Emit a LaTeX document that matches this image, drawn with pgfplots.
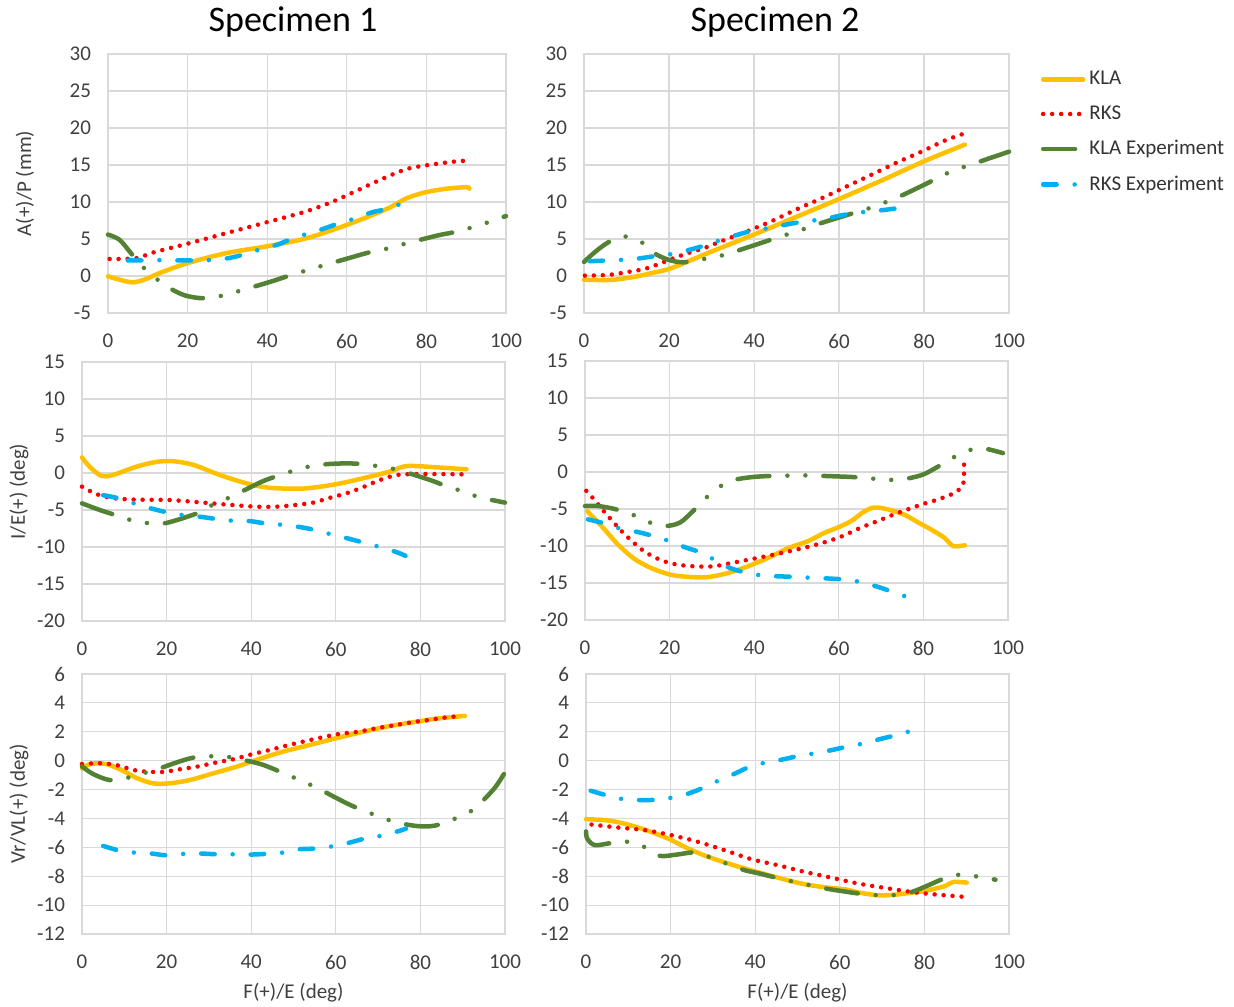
\documentclass[border=0pt]{standalone}
\usepackage{fontspec}
\setmainfont{Carlito}
\usepackage{pgfplots}
\pgfplotsset{compat=1.18}
\definecolor{kla}{HTML}{FFC000}
\definecolor{rks}{HTML}{FF0000}
\definecolor{klaexp}{HTML}{548235}
\definecolor{rksexp}{HTML}{00B0F0}
\definecolor{gridc}{HTML}{D9D9D9}
\definecolor{txt}{HTML}{404040}
\pgfplotsset{
 base/.style={scale only axis, xmin=0, xmax=100, xtick={0,20,40,60,80,100},
   xticklabels={0,20,40,60,80,100}, clip=false,
   grid=major, major grid style={gridc, line width=0.6pt},
   axis line style={gridc, line width=0.6pt}, tick style={draw=none},
   ticklabel style={font=\fontsize{10.5}{12}\selectfont, text=txt},
   label style={font=\fontsize{10.5}{12}\selectfont, text=txt},
   xticklabel style={yshift=-7pt}, yticklabel style={xshift=-5pt},
   every axis plot/.append style={line width=2.25pt, smooth, tension=0.5},
   legend image code/.code={\draw[#1] (0pt,0pt) -- (20pt,0pt);}},
 topaxis/.style={base, width=199pt, height=129.5pt, ymin=-5, ymax=30,
   ytick={-5,0,5,10,15,20,25,30}, yticklabels={-5,0,5,10,15,20,25,30}},
 midaxis/.style={base, width=211.5pt, height=129.5pt, ymin=-20, ymax=15,
   ytick={-20,-15,-10,-5,0,5,10,15}, yticklabels={-20,-15,-10,-5,0,5,10,15}},
 botaxis/.style={base, width=211.5pt, height=130pt, ymin=-12, ymax=6,
   ytick={-12,-10,-8,-6,-4,-2,0,2,4,6}, yticklabels={-12,-10,-8,-6,-4,-2,0,2,4,6}},
 KLA/.style={kla, line cap=round, line join=round},
 RKS/.style={rks, line cap=round, dash pattern=on 0pt off 4.5pt},
 KLAE/.style={klaexp, line cap=round, dash pattern=on 16pt off 9pt on 0pt off 9pt on 0pt off 9pt},
 RKSE/.style={rksexp, line cap=round, dash pattern=on 6.75pt off 9pt on 0pt off 9pt},
}
\begin{document}
\begin{tikzpicture}
\path[use as bounding box] (0,0) rectangle (617pt,503pt);
\node[font=\fontsize{18}{21}\selectfont] at (146.5pt,492pt) {Specimen 1};
\node[font=\fontsize{18}{21}\selectfont] at (387.5pt,492pt) {Specimen 2};
% Plot 1
\begin{axis}[topaxis, at={(54pt,346.5pt)}, anchor=south west, ylabel={A(+)/P (mm)},
  ylabel style={at={(axis description cs:-0.2085,0.5)}, anchor=center, rotate=0}]
\addplot[KLA] coordinates {(0,-0.05)(2.9,-0.5)(6.3,-0.86)(9.6,-0.4)(13,0.4)(20.1,1.76)(29.8,3.1)(39.8,4.0)(49.9,5.1)(60,6.9)(70,9.05)(75,10.5)(79.7,11.3)(85.1,11.8)(90.2,12.0)(90.8,11.8)};
\addplot[RKS] coordinates {(0.4,2.3)(7.1,2.4)(11.5,3.2)(20.6,4.45)(29.8,5.8)(39.8,7.25)(49,8.6)(55.8,9.9)(62,11.4)(68.4,13.0)(74.7,14.4)(79.3,14.9)(86,15.4)(90.2,15.6)};
\addplot[KLAE] coordinates {(0,5.6)(2.9,4.9)(5.9,3.0)(8.8,1.2)(12.2,-0.4)(16,-1.8)(19.5,-2.65)(23.7,-3.0)(28.3,-2.7)(32.7,-2.07)(40.7,-0.8)(44.7,-0.1)(49.1,0.63)(53.3,1.3)(61.7,2.6)(65.7,3.2)(70.1,3.7)(74.2,4.3)(82.6,5.45)(86.8,5.9)(91,6.5)(95.2,7.2)(100,8.1)};
\addplot[RKSE] coordinates {(5,2.1)(8.8,2.1)(13.3,2.15)(17.6,2.1)(21.4,2.1)(25.6,2.15)(30.2,2.4)(34,2.9)(38,3.55)(42.4,4.2)(46.1,5.0)(50,5.7)(54,6.35)(57.9,7.1)(61.9,7.75)(66.3,8.6)(70,9.05)(73.8,9.8)};
\end{axis}
% Plot 2
\begin{axis}[topaxis, width=212.5pt, at={(292pt,346.5pt)}, anchor=south west,
  legend style={at={(1.06,0.966)}, anchor=north west, draw=none, fill=none,
  font=\fontsize{10.5}{12}\selectfont, text=black!80, row sep=5pt}, legend cell align=left]
\addplot[KLA] coordinates {(0,-0.5)(5,-0.55)(8,-0.45)(12,-0.1)(16,0.4)(20,0.95)(25,2.1)(30,3.3)(40,5.6)(50,8.0)(60,10.4)(70,12.9)(80,15.5)(89.6,17.75)};
\addplot[RKS] coordinates {(0.2,0.05)(5.7,0.14)(10.4,0.55)(14.3,0.95)(16.6,1.4)(20.6,2.3)(24.5,3.1)(28.4,3.8)(32.3,4.7)(38.2,6.0)(44.1,7.4)(50,9.0)(55.9,10.5)(61.8,12.1)(67.7,13.7)(73.5,15.3)(79.4,16.8)(84.9,18.3)(89.2,19.2)};
\addplot[KLAE] coordinates {(0,1.9)(2.5,3.2)(5.3,4.4)(8.8,5.36)(13,4.8)(16,3.25)(19.8,2.2)(23.3,1.85)(27.2,2.2)(31.6,2.65)(35.5,3.3)(42.9,4.7)(46.9,5.45)(51,6.2)(54.7,6.95)(62.2,8.3)(66.3,9.0)(70.2,9.8)(74.1,10.7)(81,12.6)(84.7,13.7)(88.7,14.6)(92.8,15.4)(100,16.8)};
\addplot[RKSE] coordinates {(1.3,2.0)(5.7,2.1)(9.2,2.2)(13.3,2.4)(17.4,2.75)(21,3.0)(24.9,3.55)(28.8,4.2)(32.3,4.9)(36.3,5.6)(40.2,6.2)(43.7,6.5)(47.6,6.95)(52,7.4)(55.5,7.6)(59.4,8.05)(63.3,8.5)(66.9,8.7)(71,8.95)(76.1,9.35)};
\legend{KLA,RKS,KLA Experiment,RKS Experiment}
\end{axis}
% Plot 3
\begin{axis}[midaxis, at={(41pt,192.5pt)}, anchor=south west, ylabel={I/E(+) (deg)},
  ylabel style={at={(axis description cs:-0.149,0.5)}, anchor=center, rotate=0}]
\addplot[KLA] coordinates {(0,2.1)(1.8,0.85)(4.6,-0.4)(7.3,-0.27)(12.9,0.86)(17.6,1.5)(21.5,1.6)(26.3,1.1)(32.6,-0.27)(38.9,-1.4)(44.4,-2.0)(52.3,-2.1)(60.2,-1.5)(68,-0.5)(72.8,0.2)(75.9,0.86)(78.3,0.95)(83.8,0.77)(90.9,0.5)};
\addplot[RKS] coordinates {(0,-1.85)(3.4,-2.85)(7.3,-3.4)(12.9,-3.6)(20.7,-3.65)(28.6,-4.0)(34.9,-4.3)(41.2,-4.55)(46,-4.55)(50.7,-4.3)(54.7,-4.0)(58.6,-3.35)(62.5,-2.75)(66.5,-1.9)(70.4,-0.95)(74.4,-0.27)(79.1,-0.14)(83.8,-0.14)(90.1,-0.18)};
\addplot[KLAE] coordinates {(0,-4.1)(4.2,-5.0)(8,-5.7)(12.1,-6.45)(16,-6.8)(18.4,-6.85)(20,-6.75)(23.9,-6.1)(27.8,-5.3)(31.5,-4.1)(35.3,-3.2)(42.4,-1.2)(46.4,-0.36)(50.5,0.4)(54.3,0.95)(58,1.2)(62.5,1.3)(66.3,1.2)(70.6,0.86)(74.8,0.4)(82.3,-0.95)(86,-1.75)(90.1,-2.5)(94.1,-3.3)(100,-4.0)};
\addplot[RKSE] coordinates {(5,-3.0)(8.5,-3.4)(12.3,-4.1)(16.4,-4.8)(20,-5.3)(23.9,-5.7)(27.8,-5.9)(31.5,-6.2)(35.7,-6.45)(39.7,-6.5)(43.2,-6.8)(47.4,-7.0)(51.5,-7.3)(55,-7.7)(59,-8.3)(62.9,-8.85)(66.5,-9.4)(70.4,-10)(74.4,-10.7)(76.5,-11.2)};
\end{axis}
% Plot 4
\begin{axis}[midaxis, at={(292.5pt,193pt)}, anchor=south west]
\addplot[KLA] coordinates {(0.55,-5.3)(3.9,-7.3)(7.8,-9.8)(11.7,-11.75)(15.7,-13.0)(20.4,-13.9)(25.1,-14.2)(29.1,-14.2)(33.8,-13.65)(38.5,-12.75)(43.3,-11.6)(48,-10.3)(52.7,-9.35)(56.7,-8.2)(59.8,-7.5)(63,-6.6)(66.1,-5.3)(68.5,-4.8)(71.6,-5.05)(75.6,-5.8)(78.7,-6.8)(81.9,-7.8)(85,-8.9)(87,-10.0)(89.8,-9.9)};
\addplot[RKS] coordinates {(0.3,-2.55)(1.9,-3.55)(4.6,-5.4)(9,-8.2)(13.7,-10.6)(17.7,-11.85)(21.6,-12.5)(25.9,-12.75)(30.3,-12.75)(34.6,-12.3)(40.9,-11.6)(47.2,-10.85)(53.5,-10.0)(59.8,-8.9)(65.3,-7.5)(69.3,-6.6)(73.2,-5.7)(79.5,-4.4)(83.5,-3.7)(87.4,-2.8)(89.4,-1.65)(89.6,0.6)(89.6,1.7)};
\addplot[KLAE] coordinates {(0,-4.6)(3.1,-4.6)(7,-5.0)(11,-5.7)(14.7,-6.7)(18.8,-7.3)(22.4,-6.85)(25.5,-5.3)(28.5,-3.55)(31.8,-2.0)(35,-1.1)(39.3,-0.7)(43.3,-0.55)(47.6,-0.5)(51.5,-0.45)(59.8,-0.6)(63.8,-0.7)(68.1,-0.9)(72,-1.07)(76,-0.9)(79.9,-0.35)(83.5,0.74)(87.2,2.0)(90.9,2.95)(92.9,3.2)(95.5,3.05)(98.8,2.55)};
\addplot[RKSE] coordinates {(0.7,-6.4)(5,-7.0)(8.6,-7.7)(12.4,-8.1)(16.5,-8.7)(20,-9.35)(23.8,-10.2)(27.5,-10.9)(31,-12.0)(34.4,-13.0)(38.4,-13.65)(42.1,-14.0)(46,-14.1)(50.2,-14.2)(53.7,-14.3)(57.8,-14.4)(61.8,-14.55)(65.3,-14.9)(69.4,-15.55)(73.2,-16.3)(76.2,-16.9)};
\end{axis}
% Plot 5
\begin{axis}[botaxis, at={(41pt,36pt)}, anchor=south west, ylabel={Vr/VL(+) (deg)}, xlabel={F(+)/E (deg)},
  ylabel style={at={(axis description cs:-0.149,0.5)}, anchor=center, rotate=0}]
\addplot[KLA] coordinates {(0,-0.53)(1.8,-0.25)(4.2,-0.18)(6.5,-0.3)(9.7,-0.7)(12.9,-1.2)(16.8,-1.57)(20.7,-1.57)(25.5,-1.34)(31,-0.88)(36.5,-0.42)(41.2,0.05)(47.6,0.63)(53.9,1.09)(60.2,1.56)(66.5,2.0)(72.8,2.4)(79.1,2.7)(84.6,2.94)(90.5,3.1)};
\addplot[RKS] coordinates {(0,-0.23)(4.2,-0.18)(8.1,-0.3)(12.1,-0.64)(15.2,-0.76)(19.2,-0.78)(23.1,-0.6)(27.4,-0.4)(31.8,-0.12)(35.7,0.09)(40.1,0.44)(44.4,0.74)(48.3,1.04)(52.3,1.32)(57,1.63)(61,1.86)(65.3,2.0)(69.6,2.25)(73.6,2.44)(78.3,2.67)(82.3,2.83)(86.2,3.0)(88.6,3.06)};
\addplot[KLAE] coordinates {(0,-0.4)(2.6,-0.92)(6.5,-1.34)(10.5,-1.2)(14.4,-0.88)(18.4,-0.53)(22.5,-0.11)(26.3,0.21)(30,0.3)(34.1,0.28)(38.2,0.05)(42.4,-0.25)(46.4,-0.71)(53.5,-1.6)(57.3,-2.15)(61.1,-2.73)(64.9,-3.26)(72.4,-4.1)(76.2,-4.39)(80.4,-4.55)(84.5,-4.42)(91.7,-3.54)(94.9,-2.73)(97.8,-1.8)(100,-0.8)};
\addplot[RKSE] coordinates {(5,-5.9)(8.5,-6.2)(12.3,-6.36)(16.4,-6.43)(20,-6.55)(24.1,-6.45)(28.1,-6.43)(31.8,-6.48)(36,-6.48)(39.9,-6.5)(43.6,-6.45)(47.6,-6.36)(51.5,-6.13)(55.3,-6.08)(59.4,-5.92)(63.3,-5.67)(66.9,-5.39)(70.8,-5.2)(74.8,-4.88)(76.6,-4.7)};
\end{axis}
% Plot 6
\begin{axis}[botaxis, at={(293pt,36pt)}, anchor=south west, xlabel={F(+)/E (deg)}]
\addplot[KLA] coordinates {(0,-4.05)(5.2,-4.14)(9.9,-4.42)(14.7,-4.86)(19.4,-5.39)(24.1,-6.08)(28.9,-6.66)(34.4,-7.19)(39.9,-7.66)(45.4,-8.1)(50.9,-8.51)(56.5,-8.77)(61.2,-8.91)(65.1,-9.16)(69.1,-9.32)(73,-9.28)(77,-9.14)(80.1,-9.02)(82.5,-8.86)(84.9,-8.68)(86.8,-8.4)(90,-8.44)};
\addplot[RKS] coordinates {(1.3,-4.42)(7.6,-4.63)(13.9,-4.81)(20.2,-5.16)(26.5,-5.62)(32.8,-6.2)(39.1,-6.82)(45.4,-7.24)(51.7,-7.7)(58,-8.1)(64.4,-8.51)(70.7,-8.81)(77,-9.09)(83.3,-9.28)(90,-9.44)};
\addplot[KLAE] coordinates {(0,-4.9)(0.3,-5.4)(2.1,-5.85)(6.2,-5.69)(10.3,-5.62)(14,-6.0)(17.4,-6.59)(21.5,-6.5)(25.9,-6.35)(29.7,-6.73)(36.8,-7.52)(41.1,-7.82)(45.2,-8.12)(49.4,-8.4)(56.9,-8.86)(61,-9.05)(65.3,-9.23)(69.5,-9.32)(73,-9.3)(77,-9.09)(80.9,-8.63)(85,-8.12)(89,-7.89)(96.8,-8.24)};
\addplot[RKSE] coordinates {(1.1,-2.08)(5.2,-2.43)(8.75,-2.66)(12.9,-2.73)(17,-2.7)(20.6,-2.54)(24.4,-2.26)(28.3,-1.8)(31.6,-1.34)(35.3,-0.88)(39.1,-0.37)(42.7,-0.12)(46.6,0.09)(50.6,0.35)(54.1,0.51)(58.2,0.74)(62.1,1.0)(65.8,1.2)(69.7,1.51)(73.7,1.79)(76.3,2.02)};
\end{axis}
\end{tikzpicture}
\end{document}
